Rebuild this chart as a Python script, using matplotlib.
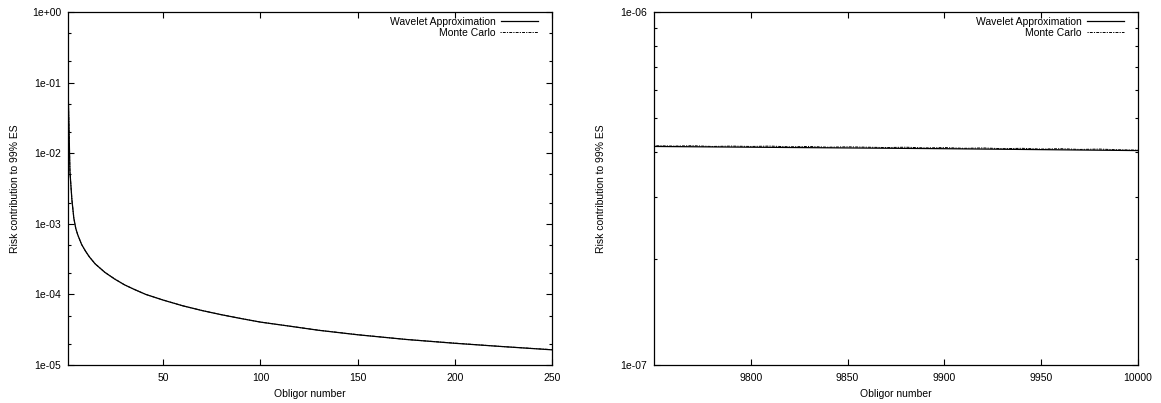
import matplotlib
matplotlib.use("Agg")
import matplotlib.pyplot as plt
from matplotlib.ticker import FixedLocator, LogLocator, NullFormatter, FuncFormatter

plt.rcParams['font.family'] = ['Liberation Sans', 'DejaVu Sans']
plt.rcParams['font.size'] = 7.5
plt.rcParams['axes.linewidth'] = 0.9

# first obligors (largest exposures)
head_obligor = [1, 2, 3, 4, 5, 6, 8, 10, 12, 15, 20, 25, 30, 35, 41, 50, 60, 70,
                80, 90, 100, 115, 130, 150, 175, 200, 225, 250]
head_wavelet = [1.0e-1, 5.5e-3, 2.2e-3, 1.2e-3, 8.6e-4, 7.0e-4, 5.1e-4, 4.1e-4,
                3.4e-4, 2.7e-4, 2.05e-4, 1.65e-4, 1.37e-4, 1.18e-4, 1.0e-4, 8.3e-5,
                6.9e-5, 5.9e-5, 5.15e-5, 4.55e-5, 4.05e-5, 3.55e-5, 3.1e-5, 2.68e-5,
                2.3e-5, 2.03e-5, 1.82e-5, 1.64e-5]
head_mc = [1.0e-1, 5.5e-3, 2.21e-3, 1.2e-3, 8.62e-4, 7.0e-4, 5.1e-4, 4.11e-4,
           3.4e-4, 2.71e-4, 2.05e-4, 1.66e-4, 1.37e-4, 1.18e-4, 1.0e-4, 8.32e-5,
           6.9e-5, 5.91e-5, 5.15e-5, 4.56e-5, 4.06e-5, 3.55e-5, 3.11e-5, 2.69e-5,
           2.3e-5, 2.04e-5, 1.82e-5, 1.65e-5]

# last obligors (smallest exposures)
tail_obligor = [9750, 9800, 9850, 9900, 9950, 10000]
tail_wavelet = [4.16e-7, 4.14e-7, 4.12e-7, 4.10e-7, 4.075e-7, 4.05e-7]
tail_mc_obligor = list(range(9750, 10001, 10))
tail_mc = [4.18e-7, 4.17e-7, 4.18e-7, 4.16e-7, 4.17e-7, 4.16e-7, 4.17e-7, 4.15e-7,
           4.16e-7, 4.14e-7, 4.15e-7, 4.14e-7, 4.13e-7, 4.14e-7, 4.12e-7, 4.13e-7,
           4.11e-7, 4.12e-7, 4.10e-7, 4.11e-7, 4.09e-7, 4.10e-7, 4.08e-7, 4.09e-7,
           4.07e-7, 4.06e-7]

W, H = 1161, 403
fig = plt.figure(figsize=(W / 100, H / 100), dpi=100)
ax1 = fig.add_axes([68 / W, (H - 365) / H, 484 / W, 353 / H])
ax2 = fig.add_axes([654 / W, (H - 365) / H, 484 / W, 353 / H])

mc_style = (0, (1.2, 1.2, 3.0, 1.2))
sci = FuncFormatter(lambda v, p: "{:.0e}".format(v))


def setup(ax, xlim, xticks, ylim, minor_subs):
    ax.set_yscale('log')
    ax.set_xlim(*xlim)
    ax.set_ylim(*ylim)
    ax.xaxis.set_major_locator(FixedLocator(xticks))
    ax.yaxis.set_major_locator(LogLocator(base=10, subs=(1.0,)))
    ax.yaxis.set_minor_locator(LogLocator(base=10, subs=minor_subs))
    ax.yaxis.set_major_formatter(sci)
    ax.yaxis.set_minor_formatter(NullFormatter())
    ax.tick_params(which='both', direction='in', top=True, right=True, width=0.8)
    ax.tick_params(which='major', length=4)
    ax.tick_params(which='minor', length=2)
    ax.tick_params(axis='x', pad=6)
    ax.tick_params(axis='y', pad=5)
    ax.set_xlabel('Obligor number')
    ax.set_ylabel('Risk contribution to 99% ES')
    ax.xaxis.set_label_coords(0.5, -0.068)
    ax.yaxis.set_label_coords(-0.10, 0.5)
    ax.legend(loc='upper right', frameon=False, markerfirst=False,
              handlelength=3.6, handletextpad=0.5, labelspacing=0.05,
              borderpad=0, borderaxespad=0,
              bbox_to_anchor=(1 - 14 / 484, 1 - 5 / 353))


ax1.plot(head_obligor, head_wavelet, color='black', lw=0.9, label='Wavelet Approximation')
ax1.plot(head_obligor, head_mc, color='black', lw=0.7, ls=mc_style, label='Monte Carlo')
setup(ax1, (1, 250), [50, 100, 150, 200, 250], (1e-5, 1e0), (2.0, 5.0))

ax2.plot(tail_obligor, tail_wavelet, color='black', lw=0.9, label='Wavelet Approximation')
ax2.plot(tail_mc_obligor, tail_mc, color='black', lw=0.7, ls=mc_style, label='Monte Carlo')
setup(ax2, (9750, 10000), [9800, 9850, 9900, 9950, 10000], (1e-7, 1e-6),
      tuple(float(s) for s in range(2, 10)))

fig.savefig('out.png', dpi=100)
